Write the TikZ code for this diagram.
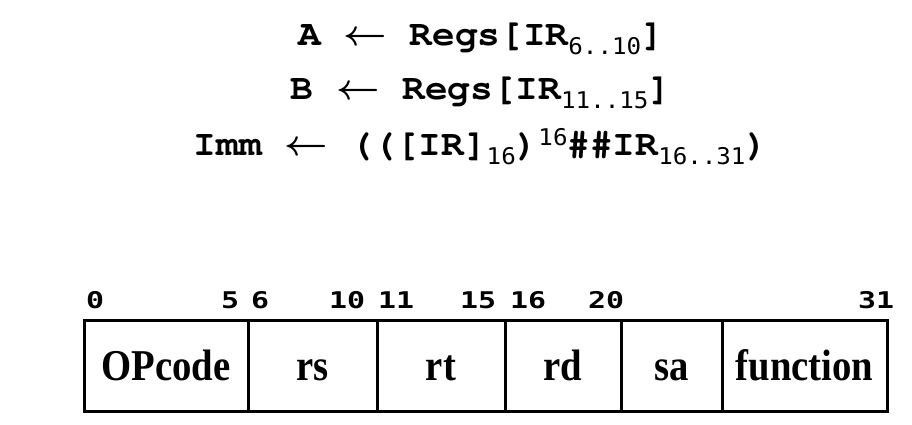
\RequirePackage{fix-cm}
\documentclass[tikz,border=0pt]{standalone}
\usepackage{fontspec}
\setmainfont{Liberation Serif}
\newfontfamily\monob{texgyrecursor-bold.otf}
\newfontfamily\subf{DejaVu Sans Mono}
\newfontfamily\numf{DejaVu Sans Mono}
\newcommand{\sbs}[1]{\raisebox{-9pt}{\subf\fontsize{23}{23}\selectfont #1}}
\newcommand{\sps}[1]{\raisebox{10pt}{\subf\fontsize{23}{23}\selectfont #1}}
\newcommand{\arrw}{\hspace{0.6em}{\boldmath$\leftarrow$}\hspace{0.6em}}
\tikzset{
  eqline/.style={inner sep=0pt, anchor=base, font=\monob\fontsize{36}{36}\selectfont},
  bitnum/.style={inner sep=0pt, anchor=base west, font=\numf\bfseries\fontsize{23}{23}\selectfont},
  field/.style={draw, line width=3pt, inner sep=0pt, minimum height=91pt,
    text height=29pt, text depth=0pt, font=\bfseries\fontsize{44}{44}\selectfont}
}
\begin{document}
\begin{tikzpicture}[x=1pt,y=-1pt]
\useasboundingbox (0,0) rectangle (912,425);
% equations
\node[eqline] (eqA) at (481,46) {\scalebox{1.05}[1]{A\arrw Regs[IR\sbs{6..10}]}};
\node[eqline] (eqB) at (481,100) {\scalebox{1.05}[1]{B\arrw Regs[IR\sbs{11..15}]}};
\node[eqline] (eqI) at (481,155) {\scalebox{1.05}[1]{Imm\arrw (([IR]\sbs{16})\sps{16}\#\#IR\sbs{16..31})}};
% fields
\node[field, minimum width=164pt] (opc) at (166,365.5) {\scalebox{0.88}[1]{OPcode}\hspace{11pt}};
\node[field, minimum width=129pt] (rs) at (312.5,365.5) {\scalebox{0.88}[1]{rs}};
\node[field, minimum width=128pt] (rt) at (441,365.5) {\scalebox{0.88}[1]{rt}};
\node[field, minimum width=116pt] (rd) at (563,365.5) {\scalebox{0.88}[1]{rd}};
\node[field, minimum width=101pt] (sa) at (671.5,365.5) {\scalebox{0.88}[1]{sa}};
\node[field, minimum width=165pt] (fn) at (804.5,365.5) {\scalebox{0.88}[1]{function}\hspace{5pt}};
% bit numbers
\node[bitnum] (b0) at (86,308) {\scalebox{1.3}[1]{0}};
\node[bitnum] (b5) at (221,308) {\scalebox{1.3}[1]{5}};
\node[bitnum] (b6) at (251,308) {\scalebox{1.3}[1]{6}};
\node[bitnum] (b10) at (329,308) {\scalebox{1.3}[1]{10}};
\node[bitnum] (b11) at (378,308) {\scalebox{1.3}[1]{11}};
\node[bitnum] (b15) at (460,308) {\scalebox{1.3}[1]{15}};
\node[bitnum] (b16) at (510,308) {\scalebox{1.3}[1]{16}};
\node[bitnum] (b20) at (588,308) {\scalebox{1.3}[1]{20}};
\node[bitnum] (b31) at (858,308) {\scalebox{1.3}[1]{31}};
\end{tikzpicture}
\end{document}
